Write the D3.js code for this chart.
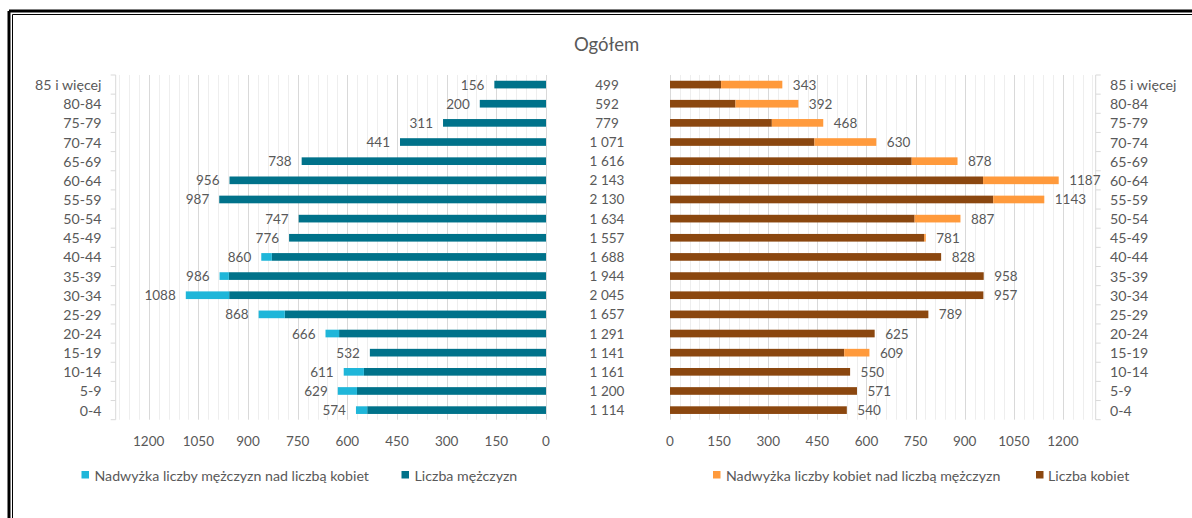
<!DOCTYPE html>
<html>
<head>
<meta charset="utf-8">
<script src="https://cdn.jsdelivr.net/npm/d3@7"></script>
<style>
  html, body { margin: 0; padding: 0; background: #fff; }
  svg { display: block; font-family: Lato, "Open Sans", sans-serif; }
</style>
</head>
<body>
<svg id="chart" width="1192" height="518"></svg>
<script>
// ---- data (top row first) ----
const categories = ["85 i więcej","80-84","75-79","70-74","65-69","60-64","55-59","50-54","45-49","40-44","35-39","30-34","25-29","20-24","15-19","10-14","5-9","0-4"];
const men   = [156, 200, 311, 441, 738, 956, 987, 747, 776, 860, 986, 1088, 868, 666, 532, 611, 629, 574];
const women = [343, 392, 468, 630, 878, 1187, 1143, 887, 781, 828, 958, 957, 789, 625, 609, 550, 571, 540];
const tickValues = [0, 150, 300, 450, 600, 750, 900, 1050, 1200];
const title = "Ogółem";
const legendLeft = ["Nadwyżka liczby mężczyzn nad liczbą kobiet", "Liczba mężczyzn"];
const legendRight = ["Nadwyżka liczby kobiet nad liczbą mężczyzn", "Liczba kobiet"];

// ---- style ----
const C = {
  teal: "#00728A", cyan: "#1FB6D9", brown: "#8B470F", orange: "#FF9A3C",
  text: "#595959", major: "#D9D9D9", minor: "#EEEEEE"
};
const FS = 13.5;     // numbers
const FST = 14.2;    // words

const svg = d3.select("#chart");

// frame (double line, top and left)
svg.append("line").attr("x1", 9).attr("x2", 1192).attr("y1", 11).attr("y2", 11).attr("stroke", "#000").attr("stroke-width", 3);
svg.append("line").attr("x1", 9).attr("x2", 9).attr("y1", 11).attr("y2", 518).attr("stroke", "#000").attr("stroke-width", 3);
svg.append("line").attr("x1", 12.5).attr("x2", 1192).attr("y1", 14.5).attr("y2", 14.5).attr("stroke", "#000").attr("stroke-width", 1);
svg.append("line").attr("x1", 12.5).attr("x2", 12.5).attr("y1", 14.5).attr("y2", 518).attr("stroke", "#000").attr("stroke-width", 1);

const plotTop = 75, plotBottom = 419.7;
const y = d3.scaleBand().domain(categories).range([plotTop, plotBottom]).paddingInner(0.6).paddingOuter(0.3);
const yb = d3.scaleBand().domain(categories).range([plotTop, plotBottom]);
const xL = d3.scaleLinear().domain([1300, 0]).range([115.6, 546]);
const xR = d3.scaleLinear().domain([0, 1300]).range([670, 1095.7]);

const minorVals = d3.range(30, 1300, 30).filter(v => v % 150 !== 0);

function grid(x) {
  const g = svg.append("g");
  g.selectAll(".mn").data(minorVals).join("line")
    .attr("x1", d => Math.round(x(d)) + 0.5).attr("x2", d => Math.round(x(d)) + 0.5)
    .attr("y1", plotTop).attr("y2", plotBottom).attr("stroke", C.minor).attr("stroke-width", 1);
  g.selectAll(".mj").data(tickValues).join("line")
    .attr("x1", d => Math.round(x(d)) + 0.5).attr("x2", d => Math.round(x(d)) + 0.5)
    .attr("y1", plotTop).attr("y2", plotBottom).attr("stroke", C.major).attr("stroke-width", 1);
}
grid(xL); grid(xR);

// category axes
function catAxis(xPos, dir) {
  const g = svg.append("g");
  g.append("line").attr("x1", xPos).attr("x2", xPos).attr("y1", plotTop).attr("y2", plotBottom).attr("stroke", C.major);
  const b = categories.map(c => yb(c)).concat([plotBottom]);
  g.selectAll("line.t").data(b).join("line").attr("class", "t")
    .attr("x1", xPos).attr("x2", xPos + dir * 5).attr("y1", d => d).attr("y2", d => d).attr("stroke", C.major);
}
catAxis(115.7, -1);
catAxis(1095.7, 1);

const rows = categories.map((c, i) => ({
  c, m: men[i], w: women[i],
  base: Math.min(men[i], women[i]),
  mEx: Math.max(0, men[i] - women[i]),
  wEx: Math.max(0, women[i] - men[i]),
  total: men[i] + women[i]
}));

// left bars
svg.append("g").selectAll("rect").data(rows).join("rect")
  .attr("x", d => xL(d.base)).attr("width", d => xL(0) - xL(d.base))
  .attr("y", d => y(d.c)).attr("height", y.bandwidth()).attr("fill", C.teal);
svg.append("g").selectAll("rect").data(rows.filter(d => d.mEx > 0)).join("rect")
  .attr("x", d => xL(d.m)).attr("width", d => xL(d.base) - xL(d.m))
  .attr("y", d => y(d.c)).attr("height", y.bandwidth()).attr("fill", C.cyan);

// right bars
svg.append("g").selectAll("rect").data(rows).join("rect")
  .attr("x", xR(0)).attr("width", d => xR(d.base) - xR(0))
  .attr("y", d => y(d.c)).attr("height", y.bandwidth()).attr("fill", C.brown);
svg.append("g").selectAll("rect").data(rows.filter(d => d.wEx > 0)).join("rect")
  .attr("x", d => xR(d.base)).attr("width", d => xR(d.w) - xR(d.base))
  .attr("y", d => y(d.c)).attr("height", y.bandwidth()).attr("fill", C.orange);

const cy = d => yb(d.c) + yb.bandwidth() / 2;
function txt(g, fs) {
  return g.attr("fill", C.text).attr("font-size", fs || FS).attr("dominant-baseline", "central");
}

// value labels
txt(svg.append("g").selectAll("text").data(rows).join("text")
  .attr("x", d => xL(d.m) - 10).attr("y", cy).attr("text-anchor", "end").text(d => d.m));
txt(svg.append("g").selectAll("text").data(rows).join("text")
  .attr("x", d => xR(d.w) + 10.5).attr("y", cy).attr("text-anchor", "start").text(d => d.w));

// totals in the middle
const fmt = v => d3.format(",")(v).replace(/,/g, " ");
txt(svg.append("g").selectAll("text").data(rows).join("text")
  .attr("x", 607).attr("y", cy).attr("text-anchor", "middle").text(d => fmt(d.total)));

// category labels
txt(svg.append("g").selectAll("text").data(rows).join("text")
  .attr("x", 101.5).attr("y", cy).attr("text-anchor", "end").text(d => d.c), FST);
txt(svg.append("g").selectAll("text").data(rows).join("text")
  .attr("x", 1110).attr("y", cy).attr("text-anchor", "start").text(d => d.c), FST);

// value axes tick labels
txt(svg.append("g").selectAll("text").data(tickValues).join("text")
  .attr("x", d => xL(d)).attr("y", 440.5).attr("text-anchor", "middle").text(d => d));
txt(svg.append("g").selectAll("text").data(tickValues).join("text")
  .attr("x", d => xR(d)).attr("y", 440.5).attr("text-anchor", "middle").text(d => d));

// title
svg.append("text").attr("x", 606.5).attr("y", 44).attr("text-anchor", "middle")
  .attr("dominant-baseline", "central").attr("font-size", 18.5).attr("fill", C.text).text(title);

// legends
function legendItem(xSq, xTxt, color, label) {
  svg.append("rect").attr("x", xSq).attr("y", 471).attr("width", 7.5).attr("height", 7.5).attr("fill", color);
  txt(svg.append("text"), FST).attr("x", xTxt).attr("y", 475).attr("text-anchor", "start").text(label);
}
legendItem(81.5, 94.5, C.cyan, legendLeft[0]);
legendItem(401.5, 414.5, C.teal, legendLeft[1]);
legendItem(713, 726, C.orange, legendRight[0]);
legendItem(1036, 1048, C.brown, legendRight[1]);
</script>
</body>
</html>
